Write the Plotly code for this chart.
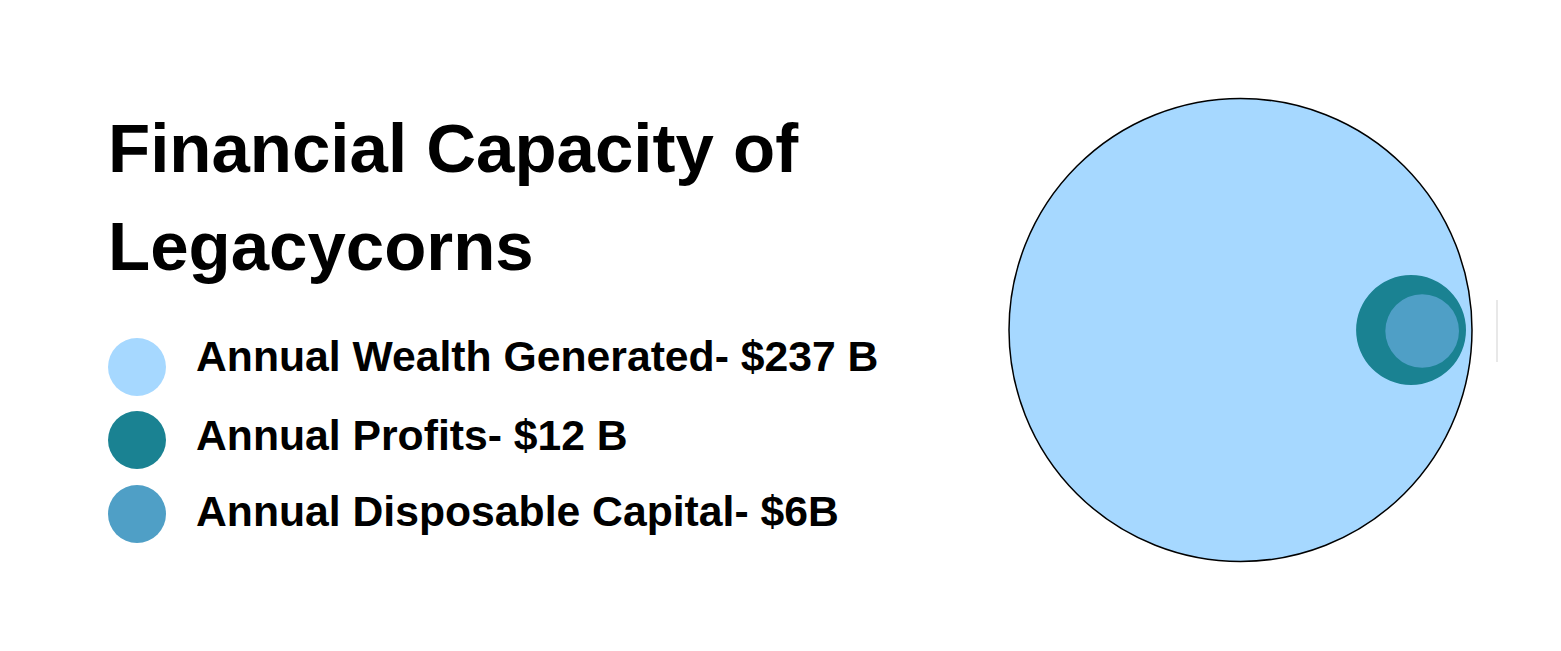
import math
import plotly.graph_objects as go

# ---- data ----
title_lines = ["Financial Capacity of", "Legacycorns"]
categories = ["Annual Wealth Generated", "Annual Profits", "Annual Disposable Capital"]
values_b = [237, 12, 6]
value_labels = ["$237 B", "$12 B", "$6B"]
colors = ["#A6D8FF", "#1A8292", "#4F9FC6"]

W, H = 1561, 651
OFF = 8  # page body margin: make data coordinates equal to page pixels
FONT = "Liberation Sans, Arial, sans-serif"

fig = go.Figure()
fig.update_layout(
    width=W, height=H,
    margin=dict(l=0, r=0, t=0, b=0),
    paper_bgcolor="white", plot_bgcolor="white",
    showlegend=False,
    xaxis=dict(range=[OFF, W + OFF], visible=False, fixedrange=True),
    yaxis=dict(range=[H + OFF, OFF], visible=False, fixedrange=True),
)

# invisible anchor trace so axes exist
fig.add_trace(go.Scatter(x=[OFF, W], y=[OFF, H], mode="markers",
                         marker=dict(opacity=0), hoverinfo="skip"))

# ---- nested circles: radius ~ sqrt(value) ----
cx, cy = 1240.5, 330
big_r = 231.5
k = big_r / math.sqrt(values_b[0])
radii = [k * math.sqrt(v) for v in values_b]
radii[1] *= 1.055
# right edges nest inside the big circle
right_big = cx + radii[0]
right_p = right_big - 6
right_d = right_p - 7
centers = [(cx, cy), (right_p - radii[1], cy), (right_d - radii[2], cy + 1)]
line_widths = [1.5, 0, 0]
for (x0, y0), r, col, lw in zip(centers, radii, colors, line_widths):
    fig.add_shape(type="circle", xref="x", yref="y",
                  x0=x0 - r, x1=x0 + r, y0=y0 - r, y1=y0 + r,
                  fillcolor=col,
                  line=dict(color="black", width=lw) if lw else dict(width=0))

# small light grey tick at right
fig.add_shape(type="line", xref="x", yref="y", x0=1497, x1=1497, y0=300, y1=362,
              line=dict(color="#E0E0E0", width=1.5))

# ---- title ----
title_y = [148, 246]
for t, y in zip(title_lines, title_y):
    fig.add_annotation(x=106, y=y, xref="x", yref="y", text=t, showarrow=False,
                       xanchor="left", yanchor="middle",
                       font=dict(family=FONT, size=69, color="black", weight="bold"))

# ---- legend ----
dot_y = [367, 440, 514]
text_y = [356, 435, 511]
for cat, lab, col, yd, yt in zip(categories, value_labels, colors, dot_y, text_y):
    fig.add_shape(type="circle", xref="x", yref="y",
                  x0=137 - 29, x1=137 + 29, y0=yd - 29, y1=yd + 29,
                  fillcolor=col, line=dict(width=0))
    fig.add_annotation(x=194, y=yt, xref="x", yref="y", text=f"{cat}- {lab}",
                       showarrow=False, xanchor="left", yanchor="middle",
                       font=dict(family=FONT, size=42.7, color="black", weight="bold"))

fig.write_html("out.html")
